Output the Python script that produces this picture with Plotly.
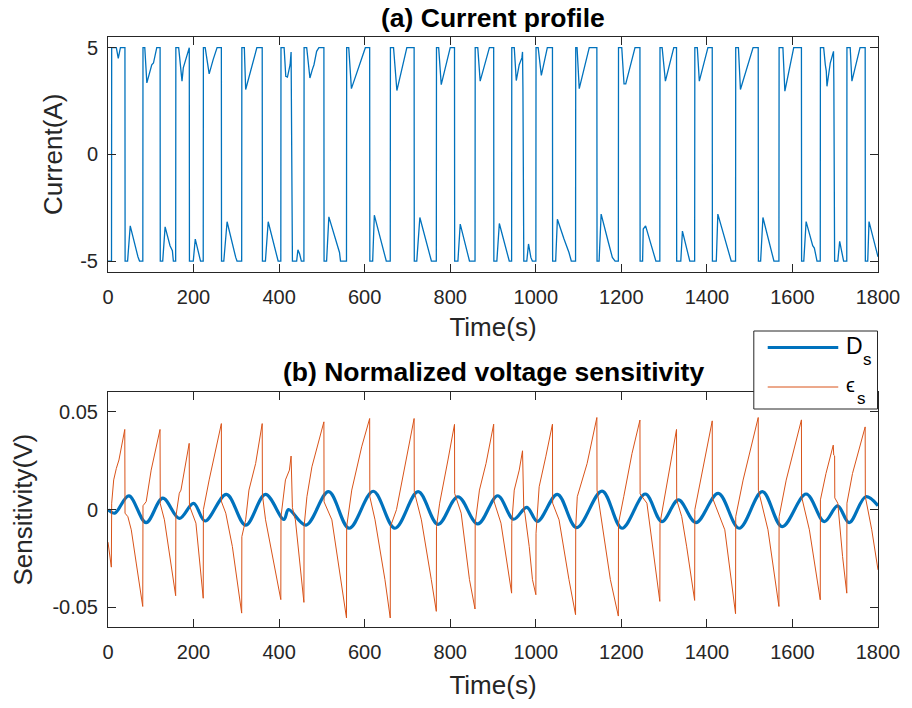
import plotly.graph_objects as go

# ---------------- data ----------------
CURRENT = [
    (0, -5), (8.2, -5), (8.6, 5), (19.5, 5), (24, 4.5), (29, 5), (39.6, 5), (40, -5), (45.8, -5), (52, -3.35), (70, -4.8), (73.7, -5), (81.4, -5), (81.8, 5),
    (86, 5), (90.8, 3.35), (102.3, 4.2), (106.3, 4.28), (114, 5), (121.8, 5), (122.2, -5), (127.9, -5), (133.5, -3.4), (145, -4.28), (150.5, -4.52), (152.8, -5), (158.2, -5), (158.6, 5),
    (165.2, 5), (171.4, 3.97), (173, 3.43), (176, 4.05), (188.5, 5), (190, 5), (190.4, -5), (199.3, -5), (204, -3.97), (216.3, -5), (222.6, -5), (223, 5),
    (227.2, 5), (236.5, 3.77), (245.8, 4.44), (255, 5), (265, 5), (265.4, -5), (270.7, -5), (278.4, -3.16), (298.6, -4.83), (301.6, -5), (312.5, -5), (312.9, 5),
    (318.7, 5), (321.8, 3.04), (348, 5), (360.5, 5), (361, -5), (368, -5), (374.5, -3.16), (397.7, -5), (404, -5), (404.4, 5),
    (411.7, 5), (415.6, 3.66), (419.5, 3.62), (425.7, 4.2), (428, 4.8), (428.8, 2.88), (431.1, -5), (441, -5), (444, -4.47), (448, -4.67), (452, -5), (458, -5), (458.4, 5),
    (464.5, 5), (472, 3.58), (477.6, 3.97), (481.5, 4.2), (487.7, 4.83), (493, 5), (504.7, 5), (505.1, -5), (511, -5), (516.3, -2.93), (541.2, -4.6), (543.5, -5), (557.5, -5), (557.9, 5),
    (562.8, 5), (569, 3.08), (601.6, 5), (611.7, 5), (612.1, -5), (618.7, -5), (622.6, -2.85), (650.5, -5), (659.8, -5), (660.2, 5),
    (667.5, 5), (675.3, 2.99), (698.6, 5), (715.6, 5), (716, -5), (721.8, -5), (729, -2.96), (756, -5), (767.5, -5), (767.9, 5),
    (773, 5), (779, 3.27), (800, 5), (810, 5), (810.4, -5), (818, -5), (823.4, -3.27), (845, -5), (858, -5), (858.4, 5),
    (864.4, 5), (870, 3.43), (891.6, 5), (901.6, 5), (902, -5), (909, -5), (914.8, -3.24), (938, -5), (943.5, -5), (943.9, 5),
    (949.7, 5), (954.4, 3.46), (961.3, 4.2), (967.5, 4.52), (969, 4.8), (970, 3.04), (972, -5), (979, -5), (983, -4.2), (988.5, -4.83), (992, -5), (1000.2, -5), (1000.6, 5),
    (1005.6, 5), (1013, 3.7), (1027, 5), (1039, 5), (1039.4, -5), (1046.5, -5), (1050.5, -3.04), (1066, -3.97), (1077.6, -4.6), (1083, -5), (1093, -5), (1093.4, 5),
    (1096.5, 5), (1101.6, 3.08), (1125, 5), (1142.8, 5), (1143.2, -5), (1148, -5), (1152.8, -2.8), (1169.8, -4.13), (1173, -4.36), (1179, -4.83), (1185.4, -5), (1193, -5), (1193.4, 5),
    (1201, 5), (1206.3, 3.3), (1210.3, 3.3), (1232, 5), (1243.5, 5), (1243.9, -5), (1249.7, -5), (1251.2, -3.5), (1256.7, -3.35), (1280.7, -5), (1290, -5), (1290.4, 5),
    (1295.4, 5), (1303, 3.43), (1322.6, 5), (1329, 5), (1329.4, -5), (1339, -5), (1342.8, -3.6), (1360, -5), (1371.4, -5), (1371.8, 5),
    (1377.6, 5), (1382.3, 3.43), (1402.4, 5), (1412.5, 5), (1412.9, -5), (1422, -5), (1425.6, -2.8), (1456.8, -5), (1467, -5), (1467.4, 5),
    (1473.7, 5), (1478.4, 3.04), (1502.4, 4.67), (1508, 5), (1520, 5), (1520.4, -5), (1525.6, -5), (1531, -2.96), (1556.7, -5), (1568.4, -5), (1568.8, 5),
    (1577.7, 5), (1582.3, 2.96), (1603, 5), (1621, 5), (1621.4, -5), (1626.5, -5), (1632, -3.15), (1647.4, -4.28), (1651.2, -4.39), (1657.4, -5), (1665, -5), (1665.4, 5),
    (1673, 5), (1676.8, 4.2), (1679.1, 3.9), (1680.7, 3.19), (1688.4, 4.28), (1696, 4.83), (1696.8, 3.43), (1698.6, -5), (1706, -5), (1710.4, -4.08), (1719.6, -5), (1727, -5), (1727.4, 5),
    (1735, 5), (1739, 3.43), (1758, 5), (1770, 5), (1770.4, -5), (1776, -5), (1779, -3.15), (1800, -4.8),
]

EPS_S = [
    (0, -0.0166), (7.8, -0.0294), (8.6, 0.0033), (13.3, 0.0152), (19.5, 0.0211), (25.6, 0.0254), (39.2, 0.041), (39.8, -0.0018), (46.5, -0.0036), (54.4, -0.0103), (66, -0.0273), (81.2, -0.0495), (81.8, 0.002),
    (89.3, 0.0041), (100.9, 0.0202), (112.5, 0.0321), (121.6, 0.041), (122.2, 0.003), (131.9, -0.0052), (158.2, -0.044), (158.6, -0.0036),
    (166.7, 0.0084), (170.6, 0.01), (189.8, 0.0339), (190.4, 0.002), (205.5, -0.0069), (222.6, -0.0453), (223, 0.0),
    (236.5, 0.0152), (265, 0.044), (265.4, 0.004), (275.3, -0.0018), (290.7, -0.0188), (312.5, -0.0529), (312.9, -0.0138),
    (321.8, -0.0052), (329.5, 0.01), (345.1, 0.0236), (360.5, 0.044), (361, 0.0075), (368.3, -0.0052), (404, -0.046), (404.4, -0.0036),
    (414.8, 0.0152), (424.1, 0.0202), (428, 0.0274), (429, 0.0219), (431.1, 0.001), (438, -0.0052), (453.5, -0.0358), (458, -0.0474), (458.4, -0.0087),
    (465, 0.0066), (476.7, 0.0219), (504.7, 0.0449), (505.1, 0.004), (523.3, -0.0052), (557.5, -0.0554), (557.9, -0.0087),
    (569.8, 0.01), (593, 0.0321), (611.7, 0.0466), (612.1, 0.0066), (624.2, -0.0052), (647.4, -0.0358), (659.8, -0.0554), (660.2, -0.0087),
    (674.4, 0.0), (694, 0.0219), (715.6, 0.0466), (716, 0.0092), (732.6, -0.0052), (755.8, -0.0358), (767.5, -0.052), (767.9, -0.0087),
    (775.3, 0.0033), (794.7, 0.0254), (810, 0.0436), (810.4, 0.0083), (825.6, -0.0018), (845, -0.0358), (858, -0.0508), (858.4, -0.007),
    (868.3, 0.01), (883.7, 0.0236), (901.6, 0.0437), (902, 0.0045), (918.6, -0.0069), (943.5, -0.0427), (943.9, -0.007),
    (949.7, 0.01), (961.3, 0.0202), (969, 0.0301), (970, 0.0236), (972, 0.0), (974.5, -0.0018), (984.6, -0.0188), (992.3, -0.0358), (1000.2, -0.0435), (1000.6, -0.0121),
    (1007.9, 0.0117), (1023.3, 0.027), (1039, 0.0437), (1039.4, 0.0033), (1054.4, -0.0052), (1077.6, -0.0358), (1093, -0.0537), (1093.4, -0.0087),
    (1097, 0.0066), (1120, 0.0236), (1142.8, 0.0471), (1143.2, 0.01), (1151, -0.0018), (1174.4, -0.0358), (1193, -0.0544), (1193.4, -0.007),
    (1205.6, 0.0066), (1224.9, 0.0287), (1243.5, 0.0458), (1243.9, 0.008), (1259.8, 0.0033), (1279, -0.0274), (1290, -0.0469), (1290.4, -0.007),
    (1302.4, 0.008), (1314, 0.0203), (1329, 0.041), (1329.4, 0.005), (1341.2, -0.0036), (1352.8, -0.019), (1371.4, -0.0464), (1371.8, 0.0),
    (1387.7, 0.0185), (1412.5, 0.0454), (1412.9, 0.0061), (1441.9, -0.0103), (1467, -0.0532), (1467.4, -0.0036),
    (1484.6, 0.0151), (1520, 0.0471), (1520.4, 0.01), (1542.8, -0.0103), (1568.4, -0.0495), (1568.8, -0.0036),
    (1585.4, 0.0151), (1621, 0.0459), (1621.4, 0.0066), (1639.6, -0.0103), (1665, -0.0461), (1665.4, 0.005),
    (1678.4, 0.0185), (1695.4, 0.033), (1696.5, 0.0279), (1698.6, 0.0275), (1699, 0.006), (1706, 0.0033), (1717.2, -0.024), (1727, -0.0427), (1727.4, 0.0033),
    (1740.4, 0.0185), (1770, 0.0423), (1770.4, 0.0066), (1785.4, -0.0103), (1800, -0.0308),
]

D_S = [
    (0, 0.0), (15.6, -0.0018), (48.8, 0.007), (89, -0.0066), (128, 0.0059), (166.7, -0.0045), (200, 0.0032), (227, -0.0058),
    (276.8, 0.0078), (321.8, -0.0079), (368, 0.0078), (411, -0.005), (422, 0.0), (462.9, -0.0079), (515.6, 0.0092),
    (563.7, -0.0095), (620, 0.0094), (670.7, -0.0095), (725, 0.0092), (771.4, -0.0075), (818, 0.0066), (864.4, -0.0073),
    (911, 0.0071), (948, -0.0049), (979, 0.0012), (1004, -0.006), (1050.5, 0.0078), (1095.5, -0.0092), (1155, 0.0095),
    (1201.6, -0.0095), (1256, 0.008), (1294.7, -0.0061), (1333.5, 0.005), (1374.5, -0.0066), (1426.5, 0.0083),
    (1475.4, -0.0095), (1529.5, 0.0092), (1576, -0.0087), (1632, 0.008), (1674.4, -0.0061), (1705.6, 0.0019),
    (1732.6, -0.0066), (1771.4, 0.0066), (1800, 0.002),
]

X_TICKS = [0, 200, 400, 600, 800, 1000, 1200, 1400, 1600, 1800]
Y1_TICKS = [-5, 0, 5]
Y1_LABELS = ["-5", "0", "5"]
Y2_TICKS = [-0.05, 0, 0.05]
Y2_LABELS = ["-0.05", "0", "0.05"]

TITLE_A = "<b>(a) Current profile</b>"
TITLE_B = "<b>(b) Normalized voltage sensitivity</b>"
LEGEND_MAIN = ["D", "ϵ"]
LEGEND_SUB = ["s", "s"]

# ---------------- figure ----------------
W, H = 912, 708
ML, MR, MT, MB = 108, 29, 37, 81
PW, PH = W - ML - MR, H - MT - MB

def px(x):  # pixel -> paper x
    return (x - ML) / PW

def py(y):  # pixel -> paper y
    return (H - MB - y) / PH

FONT = "Liberation Sans, Arial, Helvetica, sans-serif"
AX = "#262626"
BLUE = "#0072BD"
ORANGE = "#D95319"

ct, ca = zip(*CURRENT)
et, ev = zip(*EPS_S)
dt, dv = zip(*D_S)

fig = go.Figure()
fig.add_trace(go.Scatter(x=ct, y=ca, mode="lines", line=dict(color=BLUE, width=1.3),
                         xaxis="x", yaxis="y", showlegend=False, hoverinfo="skip"))
fig.add_trace(go.Scatter(x=dt, y=dv, mode="lines", name="D<sub>s</sub>",
                         line=dict(color=BLUE, width=3.2, shape="spline", smoothing=1.0),
                         xaxis="x2", yaxis="y2", showlegend=False))
fig.add_trace(go.Scatter(x=et, y=ev, mode="lines", name="ϵ<sub>s</sub>",
                         line=dict(color=ORANGE, width=1.0),
                         xaxis="x2", yaxis="y2", showlegend=False))

common = dict(showline=True, linecolor=AX, linewidth=1, mirror="allticks", ticks="inside",
              ticklen=8, tickcolor=AX, tickwidth=1, showgrid=False, zeroline=False,
              tickfont=dict(family=FONT, size=20, color=AX))
LABEL_FONT = dict(family=FONT, size=26, color=AX)

# legend box (framed block, top-right of panel b)
shapes = [
    dict(type="rect", xref="paper", yref="paper", x0=px(758), x1=px(882.5), y0=py(409), y1=py(331),
         fillcolor="white", line=dict(color=AX, width=1), layer="above"),
    dict(type="line", xref="paper", yref="paper", x0=px(772), x1=px(843), y0=py(347.5), y1=py(347.5),
         line=dict(color=BLUE, width=3.2), layer="above"),
    dict(type="line", xref="paper", yref="paper", x0=px(772), x1=px(843), y0=py(387), y1=py(387),
         line=dict(color=ORANGE, width=1.0), layer="above"),
]

annotations = [
    dict(text=TITLE_A, xref="paper", yref="paper", x=0.5, y=py(18),
         xanchor="center", yanchor="middle", showarrow=False,
         font=dict(family=FONT, size=26.5, color="black")),
    dict(text=TITLE_B, xref="paper", yref="paper", x=0.5, y=py(372),
         xanchor="center", yanchor="middle", showarrow=False,
         font=dict(family=FONT, size=26.5, color="black")),
    dict(text=LEGEND_MAIN[0], xref="paper", yref="paper", x=px(849), y=py(345.5),
         xanchor="left", yanchor="middle", showarrow=False,
         font=dict(family=FONT, size=23, color="black")),
    dict(text=LEGEND_SUB[0], xref="paper", yref="paper", x=px(865.5), y=py(359),
         xanchor="left", yanchor="middle", showarrow=False,
         font=dict(family=FONT, size=17, color="black")),
    dict(text=LEGEND_MAIN[1], xref="paper", yref="paper", x=px(849), y=py(385),
         xanchor="left", yanchor="middle", showarrow=False,
         font=dict(family=FONT, size=20, color="black")),
    dict(text=LEGEND_SUB[1], xref="paper", yref="paper", x=px(859.5), y=py(398),
         xanchor="left", yanchor="middle", showarrow=False,
         font=dict(family=FONT, size=17, color="black")),
]

fig.update_layout(
    width=W, height=H,
    margin=dict(l=ML, r=MR, t=MT, b=MB),
    paper_bgcolor="white", plot_bgcolor="white",
    font=dict(family=FONT, color=AX),
    showlegend=False,
    xaxis=dict(domain=[0, 1], anchor="y", range=[0, 1800], tickvals=X_TICKS, ticklabelstandoff=7,
               title=dict(text="Time(s)", font=LABEL_FONT, standoff=11), **common),
    yaxis=dict(domain=[py(271.7), 1], anchor="x", range=[-5.5, 5.5], tickvals=Y1_TICKS, ticktext=Y1_LABELS,
               ticklabelstandoff=5,
               title=dict(text="Current(A)", font=LABEL_FONT, standoff=10), **common),
    xaxis2=dict(domain=[0, 1], anchor="y2", range=[0, 1800], tickvals=X_TICKS, ticklabelstandoff=7,
                title=dict(text="Time(s)", font=LABEL_FONT, standoff=13), **common),
    yaxis2=dict(domain=[0, py(392.3)], anchor="x2", range=[-0.06, 0.06], tickvals=Y2_TICKS, ticktext=Y2_LABELS,
                ticklabelstandoff=5,
                title=dict(text="Sensitivity(V)", font=LABEL_FONT, standoff=12), **common),
    shapes=shapes,
    annotations=annotations,
)

fig.write_html("out.html")
